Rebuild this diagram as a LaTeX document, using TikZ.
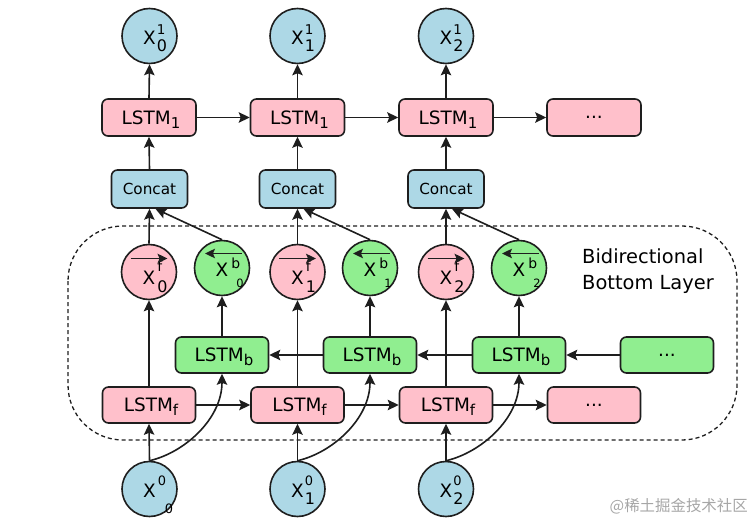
\documentclass[tikz,border=0pt]{standalone}
\usepackage{fontspec}
\setmainfont{DejaVu Sans}
\newfontfamily\cjk{Noto Sans CJK SC}
\usetikzlibrary{arrows.meta}
\definecolor{pinkf}{RGB}{255,192,203}
\definecolor{bluef}{RGB}{173,216,230}
\definecolor{greenf}{RGB}{144,238,144}
\definecolor{edgec}{RGB}{30,30,30}
\newcommand\fs[1]{\fontsize{#1}{#1}\selectfont}
% \Xs{sup}{supsize}{supx}{supraise}{sub}{subsize}{subx}{subraise}{trail}
\newcommand\Xs[9]{X\smash{\rlap{\hspace{#3}\raisebox{#4}{\fs{#2}#1}}\rlap{\hspace{#7}\raisebox{#8}{\fs{#6}#5}}}\hspace{#9}}
\newcommand\Lsub[1]{\hspace{4bp}LSTM\smash{\raisebox{-4bp}{\fs{15}#1}}}
\tikzset{
  tipbig/.tip={Stealth[length=11pt,width=10.5pt,inset=2pt]},
  tipover/.tip={Stealth[length=10pt,width=9.5pt,inset=2pt]},
  lstmbox/.style={draw=edgec, line width=1.6bp, rounded corners=6bp, minimum width=93bp, minimum height=36bp, inner sep=0pt, font=\fs{18.5}},
  pinkbox/.style={lstmbox, fill=pinkf},
  greenbox/.style={lstmbox, fill=greenf},
  concatbox/.style={lstmbox, fill=bluef, minimum width=76bp, minimum height=38bp, font=\fs{15.3}},
  xcirc/.style={circle, draw=edgec, line width=1.6bp, minimum size=55bp, inner sep=0pt, font=\fs{18.5}, text depth=0pt},
  bluecirc/.style={xcirc, fill=bluef},
  pinkcirc/.style={xcirc, fill=pinkf},
  greencirc/.style={xcirc, fill=greenf},
  conn/.style={draw=edgec, line width=1.6bp, -tipbig},
  overarrow/.style={draw=edgec, line width=1.6bp, -tipover},
  dashbox/.style={draw=edgec, line width=1.3bp, dash pattern=on 4bp off 3bp, rounded corners=55bp},
}
\begin{document}
\begin{tikzpicture}[x=1bp, y=-1bp]
\useasboundingbox (0,0) rectangle (753,521);
\draw[dashbox] (68,226) rectangle (737,440);

% top outputs
\node[bluecirc, text height=18bp] (y0) at (149.5,36) {\Xs{1}{13.5}{1bp}{10bp}{0}{16}{1bp}{-7bp}{3bp}};
\node[bluecirc, text height=18bp] (y1) at (297.5,36) {\Xs{1}{13.5}{1bp}{10bp}{1}{16}{1bp}{-7bp}{3bp}};
\node[bluecirc, text height=18bp] (y2) at (446,36) {\Xs{1}{13.5}{1bp}{10bp}{2}{16}{1bp}{-7bp}{3bp}};

% top LSTM layer
\node[pinkbox, minimum width=94bp, minimum height=37bp] (t0) at (149,117.5) {\Lsub{1}};
\node[pinkbox, minimum width=94bp, minimum height=37bp] (t1) at (297.5,117.5) {\Lsub{1}};
\node[pinkbox, minimum width=94bp, minimum height=37bp] (t2) at (446,117.5) {\Lsub{1}};
\node[pinkbox, minimum width=94bp, minimum height=37bp] (t3) at (594,117.5) {...};

% concat
\node[concatbox] (c0) at (149.5,189) {Concat};
\node[concatbox] (c1) at (297.5,189) {Concat};
\node[concatbox] (c2) at (446,189) {Concat};

% forward / backward outputs
\node[pinkcirc, text height=26bp] (f0) at (149,272) {\Xs{f}{14}{2bp}{13bp}{0}{16}{2bp}{-8bp}{3.5bp}};
\node[pinkcirc, text height=26bp] (f1) at (297.5,272) {\Xs{f}{14}{2bp}{13bp}{1}{16}{2bp}{-8bp}{3.5bp}};
\node[pinkcirc, text height=26bp] (f2) at (446,272) {\Xs{f}{14}{2bp}{13bp}{2}{16}{2bp}{-8bp}{3.5bp}};
\node[greencirc, text height=18bp] (b0) at (222,268) {\Xs{b}{14}{3bp}{8bp}{0}{11.5}{8bp}{-11bp}{2bp}};
\node[greencirc, text height=18bp] (b1) at (370,268) {\Xs{b}{14}{3bp}{8bp}{1}{11.5}{8bp}{-11bp}{2bp}};
\node[greencirc, text height=18bp] (b2) at (519,268) {\Xs{b}{14}{3bp}{8bp}{2}{11.5}{8bp}{-11bp}{2bp}};

% backward LSTM
\node[greenbox] (lb0) at (222,355) {\Lsub{b}};
\node[greenbox] (lb1) at (370,355) {\Lsub{b}};
\node[greenbox] (lb2) at (519,355) {\Lsub{b}};
\node[greenbox] (lb3) at (667,355) {...};

% forward LSTM
\node[pinkbox] (lf0) at (149,405) {\Lsub{f}};
\node[pinkbox] (lf1) at (297.5,405) {\Lsub{f}};
\node[pinkbox] (lf2) at (446,405) {\Lsub{f}};
\node[pinkbox] (lf3) at (594,405) {...};

% inputs
\node[bluecirc, text height=16bp] (x0) at (149.5,489) {\Xs{0}{13}{2bp}{12bp}{0}{13}{9bp}{-16bp}{3.5bp}};
\node[bluecirc, text height=16bp] (x1) at (297.5,489) {\Xs{0}{13}{1bp}{12bp}{1}{16}{1bp}{-7bp}{3.5bp}};
\node[bluecirc, text height=16bp] (x2) at (446,489) {\Xs{0}{13}{1bp}{12bp}{2}{16}{1bp}{-7bp}{3.5bp}};

% label
\node[anchor=north west, align=left, inner sep=0pt, font=\fontsize{19.5}{26}\selectfont] (lbl) at (582,249) {Bidirectional\\Bottom Layer};

% watermark
\node[anchor=east, inner sep=0pt, font=\cjk\fs{15.5}, text=black!35] (wm) at (748,506) {@稀土掘金技术社区};

% arrows over X^f and X^b
\foreach \i in {0,1,2} {
  \draw[overarrow] ([shift={(-18.5,-13.5)}]f\i.center) -- ([shift={(18.5,-13.5)}]f\i.center);
  \draw[overarrow] ([shift={(19.5,-14.5)}]b\i.center) -- ([shift={(-17,-14.5)}]b\i.center);
}

% connectors
\foreach \i in {0,1,2} {
  \draw[conn] (t\i.north) -- (y\i.south);
  \draw[conn] (c\i.north) -- (t\i.south);
  \draw[conn] (f\i.north) -- (c\i.south);
  \draw[conn] (b\i.north) -- ([xshift=6]c\i.south);
  \draw[conn] (lf\i.north) -- (f\i.south);
  \draw[conn] (lb\i.north) -- (b\i.south);
  \draw[conn] (x\i.north) -- (lf\i.south);
  \draw[conn] (x\i.north) .. controls +(35,-8) and +(0,45) .. (lb\i.south);
}
\draw[conn] (t0.east) -- (t1.west);
\draw[conn] (t1.east) -- (t2.west);
\draw[conn] (t2.east) -- (t3.west);
\draw[conn] (lf0.east) -- (lf1.west);
\draw[conn] (lf1.east) -- (lf2.west);
\draw[conn] (lf2.east) -- (lf3.west);
\draw[conn] (lb3.west) -- (lb2.east);
\draw[conn] (lb2.west) -- (lb1.east);
\draw[conn] (lb1.west) -- (lb0.east);
\end{tikzpicture}
\end{document}
